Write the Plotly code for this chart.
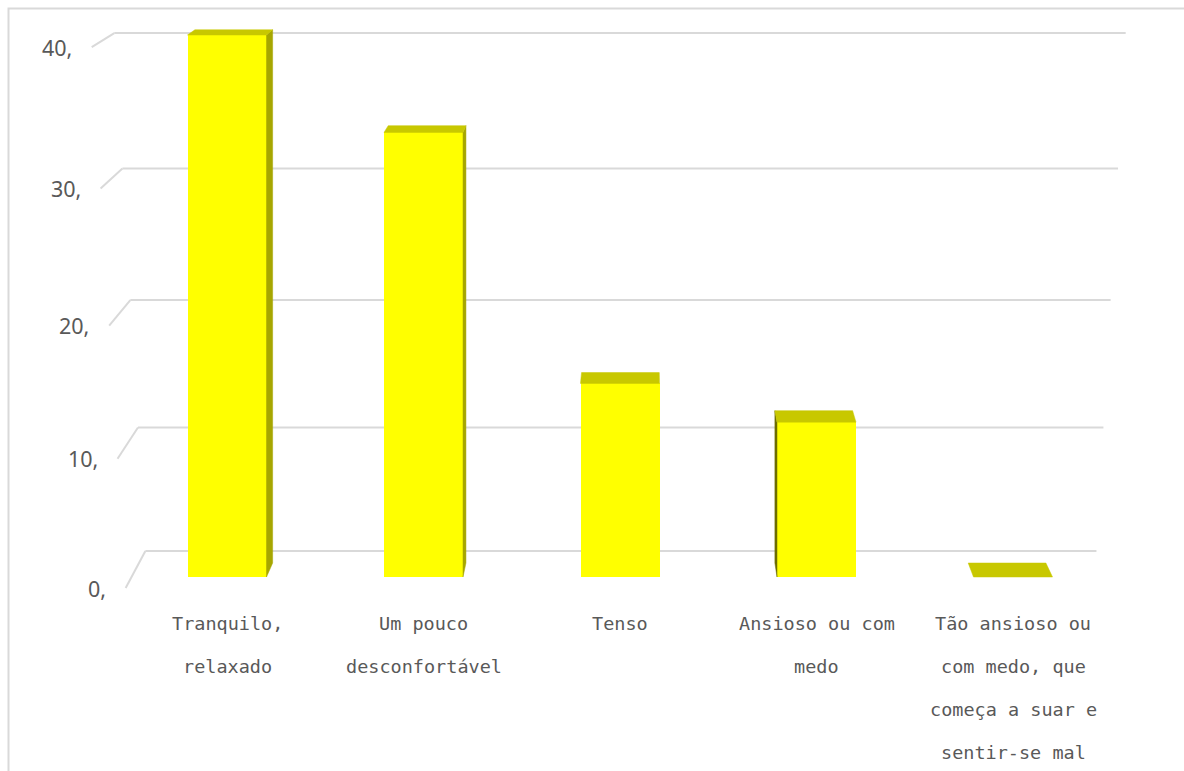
import plotly.graph_objects as go

# ---------------- data ----------------
categories = [
    "Tranquilo,\nrelaxado",
    "Um pouco\ndesconfortável",
    "Tenso",
    "Ansioso ou com\nmedo",
    "Tão ansioso ou\ncom medo, que\ncomeça a suar e\nsentir-se mal",
]
values = [40.6, 33.3, 14.5, 11.6, 0.0]
tick_values = [0, 10, 20, 30, 40]
tick_labels = ["0,", "10,", "20,", "30,", "40,"]

# ---------------- geometry / style ----------------
W, H = 1184, 771
PX_PER_CAT = 196.5      # pixels between category centres
X0_PX = 227             # pixel of first category centre
PX_PER_UNIT = 13.35     # pixels per value unit (bar front plane)
BASE_PX = 577           # pixel of value 0 at bar front plane
BAR_W = 0.402

x_min = -X0_PX / PX_PER_CAT
x_max = (W - X0_PX) / PX_PER_CAT
y_max = BASE_PX / PX_PER_UNIT
y_min = (BASE_PX - H) / PX_PER_UNIT

# perspective (vanishing point in data units) and depth factors
XVP = (646 - X0_PX) / PX_PER_CAT
YVP = (BASE_PX + 289) / PX_PER_UNIT
K_BACK = 852 / 866      # back of the bars
K_WALL = 840 / 866      # back wall
K_AXIS = 877 / 866      # front axis plane
XC, A = 2.08, 0.00164   # vertical convergence of the walls
SAG = 0.0015            # pitch compression of the wall scale
T_MAX = 40
WALL_L, WALL_R = -0.486, 4.488

GRID = "#d9d9d9"
TXT = "#595959"
FRONT = "#FFFF00"
TOP = "#C8C800"
RSIDE = "#A6A600"
LSIDE = "#6E6E00"


def proj(x, v, k, conv=False):
    xp = XVP + (x - XVP) * k
    yp = YVP + (v - YVP) * k
    if conv:
        yp -= SAG * v * (T_MAX - v)
        xp = XC + (xp - XC) * (1 + A * yp)
    return xp, yp


fig = go.Figure()

# bar front faces
fig.add_trace(go.Bar(
    x=list(range(len(values))), y=values, width=BAR_W,
    marker=dict(color=FRONT, line=dict(width=0)),
    hoverinfo="skip", showlegend=False,
))


def poly(pts, color):
    xs = [p[0] for p in pts] + [pts[0][0]]
    ys = [p[1] for p in pts] + [pts[0][1]]
    fig.add_trace(go.Scatter(
        x=xs, y=ys, mode="lines", fill="toself", fillcolor=color,
        line=dict(color=color, width=0.5), hoverinfo="skip", showlegend=False,
    ))


for i, v in enumerate(values):
    xl, xr = i - BAR_W / 2, i + BAR_W / 2
    # side faces
    if xr < XVP and v > 0:
        poly([(xr, 0), (xr, v), proj(xr, v, K_BACK), proj(xr, 0, K_BACK)], RSIDE)
    if xl > XVP and v > 0:
        poly([(xl, 0), (xl, v), proj(xl, v, K_BACK), proj(xl, 0, K_BACK)], LSIDE)
    # top face
    poly([(xl, v), (xr, v), proj(xr, v, K_BACK), proj(xl, v, K_BACK)], TOP)

shapes = []
annotations = []

# back-wall gridlines and left diagonals
for t, lab in zip(tick_values, tick_labels):
    p1 = proj(WALL_L, t, K_WALL, True)
    p2 = proj(WALL_R, t, K_WALL, True)
    p3 = proj(WALL_L, t, K_AXIS, True)
    shapes.append(dict(type="line", xref="x", yref="y", layer="below",
                       x0=p1[0], y0=p1[1], x1=p2[0], y1=p2[1],
                       line=dict(color=GRID, width=2)))
    shapes.append(dict(type="line", xref="x", yref="y", layer="below",
                       x0=p1[0], y0=p1[1], x1=p3[0], y1=p3[1],
                       line=dict(color=GRID, width=2)))
    annotations.append(dict(x=p3[0], y=p3[1], xref="x", yref="y", text=lab,
                            showarrow=False, xanchor="right", yanchor="middle",
                            xshift=-18,
                            font=dict(family="Noto Sans", size=21.5, color=TXT)))

# category labels
LINE0_PX, LINE_STEP_PX = 623, 43
for i, cat in enumerate(categories):
    for j, line in enumerate(cat.split("\n")):
        ypx = LINE0_PX + LINE_STEP_PX * j
        annotations.append(dict(x=i, y=(BASE_PX - ypx) / PX_PER_UNIT,
                                xref="x", yref="y", text=line,
                                showarrow=False, xanchor="center", yanchor="middle",
                                font=dict(family="DejaVu Sans Mono", size=18.5, color=TXT)))

# outer chart border
shapes.append(dict(type="rect", xref="paper", yref="paper", layer="below",
                   x0=8.5 / W, y0=-0.05, x1=1.05, y1=1 - 8.5 / H,
                   line=dict(color=GRID, width=2), fillcolor="rgba(0,0,0,0)"))

fig.update_layout(
    width=W, height=H, autosize=False,
    margin=dict(l=0, r=0, t=0, b=0, pad=0),
    paper_bgcolor="white", plot_bgcolor="white",
    xaxis=dict(range=[x_min, x_max], visible=False, fixedrange=True),
    yaxis=dict(range=[y_min, y_max], visible=False, fixedrange=True),
    shapes=shapes, annotations=annotations,
    bargap=0, showlegend=False,
)

fig.write_html("out.html")
